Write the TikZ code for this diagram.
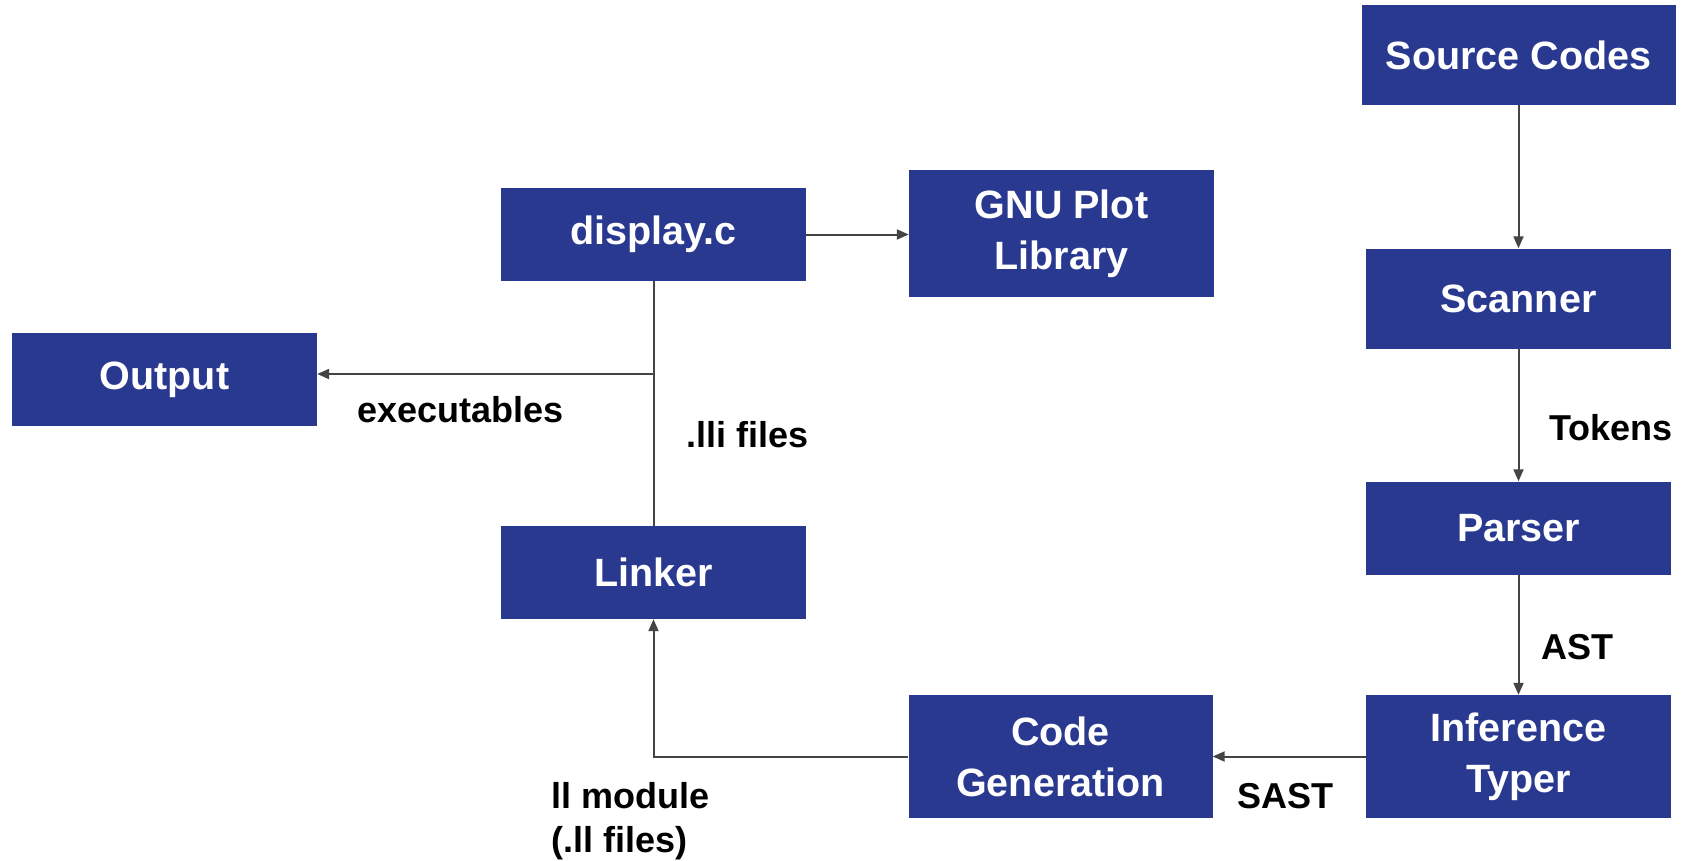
\documentclass[tikz,border=0pt]{standalone}
\usepackage{fontspec}
\setmainfont{Liberation Sans}
\usetikzlibrary{arrows.meta}
\definecolor{boxblue}{RGB}{42,57,144}
\definecolor{linegray}{RGB}{68,68,68}
\begin{document}
\begin{tikzpicture}[x=1pt,y=-1pt,
  blk/.style={fill=boxblue, text=white, font=\fontsize{39.5}{51}\selectfont\bfseries, inner sep=0pt, align=center, minimum width=305pt, minimum height=93pt},
  lbl/.style={font=\fontsize{36}{44}\selectfont\bfseries, inner sep=0pt, anchor=base west},
  conn/.style={draw=linegray, line width=2pt},
  arr/.style={conn, -{Triangle[length=12pt,width=10pt]}}]
\useasboundingbox (0,0) rectangle (1691,861);
\fill[white] (0,0) rectangle (1691,861);
% boxes
\node[blk, minimum width=314pt, minimum height=100pt] (source) at (1518.5,55) {Source Codes};
\node[blk, minimum height=100pt] (scanner) at (1518.5,298.5) {Scanner};
\node[blk] (parser) at (1518.5,528) {Parser};
\node[blk, minimum height=123pt] (infer) at (1518.5,756.5) {Inference\\Typer};
\node[blk, minimum width=304pt, minimum height=123pt] (codegen) at (1060.5,756.5) {Code\\Generation};
\node[blk] (linker) at (653.5,572.5) {Linker};
\node[blk] (display) at (653.5,234.5) {display.c};
\node[blk, minimum width=305pt, minimum height=127pt] (gnu) at (1061.5,233.5) {GNU Plot\\Library};
\node[blk] (output) at (164.5,379.5) {Output};
% connectors
\draw[arr] (source.south) -- (scanner.north);
\draw[arr] (scanner.south) -- (parser.north);
\draw[arr] (parser.south) -- (infer.north);
\draw[arr] (infer.west) -- (codegen.east);
\draw[arr] (codegen.west) -| (linker.south);
\draw[conn] (display.south) -- (linker.north);
\coordinate (jn) at (653.5,374);
\draw[arr] (jn) -- (jn -| output.east);
\draw[arr] (display.east) -- (display.east -| gnu.west);
% labels
\node[lbl] (lexe) at (357,422) {executables};
\node[lbl] (llli) at (686,447) {.lli files};
\node[lbl] (ltok) at (1549,440) {Tokens};
\node[lbl] (last) at (1541,659) {AST};
\node[lbl] (lsast) at (1237,808) {SAST};
\node[lbl] (lll1) at (551,808) {ll module};
\node[lbl] (lll2) at (551,852) {(.ll files)};
\end{tikzpicture}
\end{document}
